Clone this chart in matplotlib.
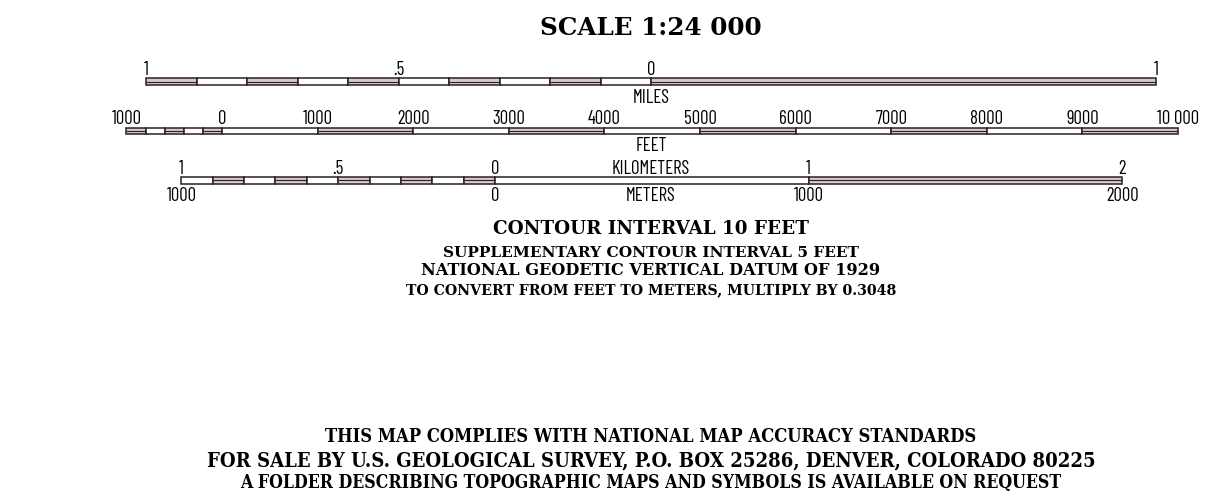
import matplotlib
matplotlib.use("Agg")
import os
import matplotlib.pyplot as plt
from matplotlib import font_manager as fm
from matplotlib.font_manager import FontProperties
from matplotlib.patches import Rectangle

# ---------------- data ----------------
TITLE = "SCALE 1:24 000"

# miles scale (values in miles)
mile_tick_values = [-1, -0.5, 0, 1]
mile_tick_labels = ["1", ".5", "0", "1"]
mile_left_edges = [-1.0, -0.9, -0.8, -0.7, -0.6, -0.5, -0.4, -0.3, -0.2, -0.1, 0.0]
mile_left_pattern = [1, 0, 1, 0, 1, 0, 1, 0, 1, 0]
mile_right_edges = [0, 1]
mile_right_pattern = [1]

# feet scale (values in feet)
feet_tick_values = [-1000, 0, 1000, 2000, 3000, 4000, 5000, 6000, 7000, 8000, 9000, 10000]
feet_tick_labels = ["1000", "0", "1000", "2000", "3000", "4000", "5000", "6000", "7000",
                    "8000", "9000", "10 000"]
feet_left_edges = [-1000, -800, -600, -400, -200, 0]
feet_left_pattern = [1, 0, 1, 0, 1]
feet_right_edges = [0, 1000, 2000, 3000, 4000, 5000, 6000, 7000, 8000, 9000, 10000]
feet_right_pattern = [0, 1, 0, 1, 0, 1, 0, 1, 0, 1]

# kilometer scale (values in km)
km_tick_values = [-1, -0.5, 0, 1, 2]
km_tick_labels = ["1", ".5", "0", "1", "2"]
m_tick_values = [-1, 0, 1, 2]
m_tick_labels = ["1000", "0", "1000", "2000"]
km_left_edges = [-1.0, -0.9, -0.8, -0.7, -0.6, -0.5, -0.4, -0.3, -0.2, -0.1, 0.0]
km_left_pattern = [0, 1, 0, 1, 0, 1, 0, 1, 0, 1]
km_right_edges = [0, 1, 2]
km_right_pattern = [0, 1]

FT_PER_MILE = 5280.0
FT_PER_KM = 3280.84

contour_lines = ["CONTOUR INTERVAL 10 FEET",
                 "SUPPLEMENTARY CONTOUR INTERVAL 5 FEET",
                 "NATIONAL GEODETIC VERTICAL DATUM OF 1929",
                 "TO CONVERT FROM FEET TO METERS, MULTIPLY BY 0.3048"]
footer_lines = ["THIS MAP COMPLIES WITH NATIONAL MAP ACCURACY STANDARDS",
                "FOR SALE BY U.S. GEOLOGICAL SURVEY, P.O. BOX 25286, DENVER, COLORADO 80225",
                "A FOLDER DESCRIBING TOPOGRAPHIC MAPS AND SYMBOLS IS AVAILABLE ON REQUEST"]

# ---------------- layout ----------------
W, H = 1212, 494
PX_PER_FT = 0.0956
CENTER_X = 651
MILE_ZERO_X, FEET_ZERO_X, KM_ZERO_X = 651, 222, 495
BAR_H = 6.5
LINE_C = "#2b1f26"
PAT_C = "#d9c9cf"

_by_base = {}
for _f in fm.fontManager.ttflist:
    _by_base.setdefault(os.path.basename(_f.fname).lower(), _f.fname)


def pick(cands, fallback):
    for c in cands:
        if c.lower() in _by_base:
            return FontProperties(fname=_by_base[c.lower()])
    return fallback


narrow = pick(["BarlowCondensed-Regular.ttf", "RobotoCondensed-Regular.ttf",
               "ArchivoNarrow-Regular.ttf", "LiberationSansNarrow-Regular.ttf",
               "DejaVuSansCondensed.ttf"], FontProperties(family="DejaVu Sans"))
serif_bold = pick(["DejaVuSerif-Bold.ttf"], FontProperties(family="DejaVu Serif", weight="bold"))
serif_cond_bold = pick(["NotoSerif-CondensedBold.ttf", "NotoSerifDisplay-CondensedBold.ttf",
                        "DejaVuSerifCondensed-Bold.ttf", "LiberationSerif-Bold.ttf"],
                       FontProperties(family="DejaVu Serif", weight="bold"))

fig = plt.figure(figsize=(W / 100, H / 100), dpi=100)
fig.patch.set_facecolor("white")
ax = fig.add_axes([0, 0, 1, 1])
ax.set_xlim(0, W)
ax.set_ylim(H, 0)
ax.axis("off")
renderer = fig.canvas.get_renderer()


def fit_text(x, y, s, fp, target_w, size0=14, **kw):
    t = ax.text(x, y, s, fontproperties=fp, fontsize=size0, ha="center", va="baseline",
                color="black", **kw)
    w = t.get_window_extent(renderer).width
    t.set_fontsize(size0 * target_w / w)
    return t


def draw_segments(edges, pattern, zero_x, ft_per_unit, y_top):
    for i, p in enumerate(pattern):
        x0 = zero_x + edges[i] * ft_per_unit * PX_PER_FT
        x1 = zero_x + edges[i + 1] * ft_per_unit * PX_PER_FT
        ax.add_patch(Rectangle((x0, y_top), x1 - x0, BAR_H,
                               facecolor=PAT_C if p else "white",
                               edgecolor=LINE_C, linewidth=1.1))
        if p:
            ax.plot([x0, x1], [y_top + BAR_H / 2] * 2, color=LINE_C, lw=0.8,
                    solid_capstyle="butt")


def draw_labels(values, labels, zero_x, ft_per_unit, y_base, size=13.5):
    for v, s in zip(values, labels):
        ax.text(zero_x + v * ft_per_unit * PX_PER_FT, y_base, s, fontproperties=narrow,
                fontsize=size, ha="center", va="baseline", color="black")


def unit_label(y, s):
    ax.text(CENTER_X, y, s, fontproperties=narrow, fontsize=13.5, ha="center",
            va="baseline", color="black")


# title
fit_text(CENTER_X, 35, TITLE, serif_bold, 222, size0=18)

# miles
draw_segments(mile_left_edges, mile_left_pattern, MILE_ZERO_X, FT_PER_MILE, 78.5)
draw_segments(mile_right_edges, mile_right_pattern, MILE_ZERO_X, FT_PER_MILE, 78.5)
draw_labels(mile_tick_values, mile_tick_labels, MILE_ZERO_X, FT_PER_MILE, 75)
unit_label(103, "MILES")

# feet
draw_segments(feet_left_edges, feet_left_pattern, FEET_ZERO_X, 1.0, 127.5)
draw_segments(feet_right_edges, feet_right_pattern, FEET_ZERO_X, 1.0, 127.5)
draw_labels(feet_tick_values, feet_tick_labels, FEET_ZERO_X, 1.0, 124)
unit_label(151, "FEET")

# kilometers
draw_segments(km_left_edges, km_left_pattern, KM_ZERO_X, FT_PER_KM, 177)
draw_segments(km_right_edges, km_right_pattern, KM_ZERO_X, FT_PER_KM, 177)
draw_labels(km_tick_values, km_tick_labels, KM_ZERO_X, FT_PER_KM, 174)
draw_labels(m_tick_values, m_tick_labels, KM_ZERO_X, FT_PER_KM, 201)
unit_label(174, "KILOMETERS")
unit_label(201, "METERS")

# contour info
contour_base = [234, 257, 275, 294]
contour_w = [318, 418, 462, 492]
for s, yb, tw in zip(contour_lines, contour_base, contour_w):
    fit_text(CENTER_X, yb, s, serif_bold, tw)

# footer
footer_base = [442, 466, 488]
footer_w = [655, 895, 826]
for s, yb, tw in zip(footer_lines, footer_base, footer_w):
    fit_text(CENTER_X, yb, s, serif_cond_bold, tw)

fig.savefig("out.png", dpi=100, facecolor="white")
